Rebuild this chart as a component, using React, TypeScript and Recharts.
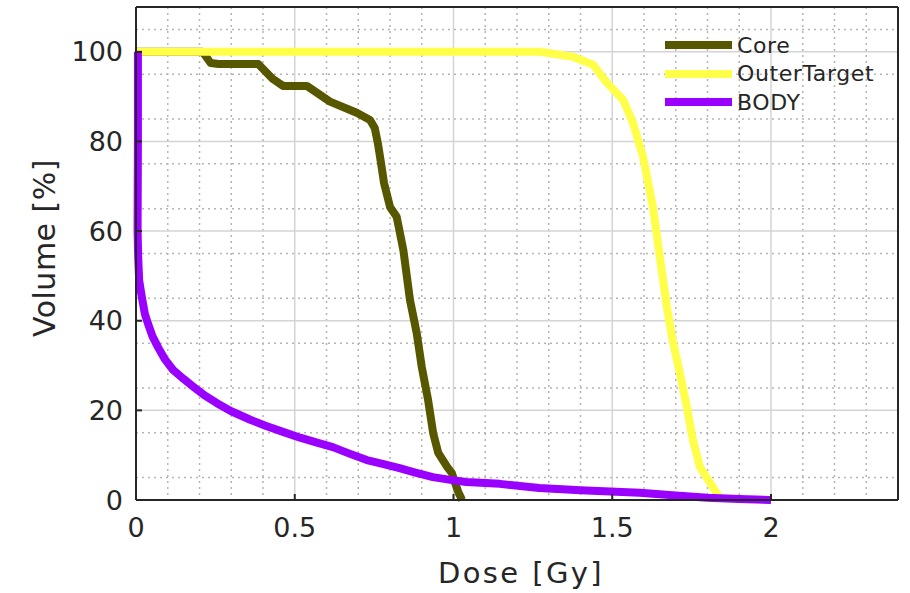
import { CartesianGrid, Line, LineChart, XAxis, YAxis } from "recharts";

// dose-volume histogram, dose in Gy, volume in %
const coreDose = [0, 0.21, 0.235, 0.26, 0.385, 0.43, 0.463, 0.538, 0.611, 0.695, 0.737, 0.752, 0.762, 0.771, 0.781, 0.8, 0.821, 0.842, 0.863, 0.884, 0.9, 0.92, 0.936, 0.952, 0.98, 0.995, 1.005, 1.015, 1.027];
const coreVolume = [100, 100, 97.5, 97.3, 97.3, 94, 92.4, 92.4, 88.9, 86.4, 84.8, 83, 79.5, 75.5, 70.8, 65.4, 63.2, 55.8, 44.6, 37.3, 29.7, 22.3, 14.9, 10.5, 7.4, 6.0, 3.8, 1.8, 0];

const outerDose = [0, 1.272, 1.376, 1.44, 1.483, 1.534, 1.565, 1.597, 1.628, 1.65, 1.672, 1.69, 1.713, 1.735, 1.754, 1.776, 1.808, 1.83, 1.845];
const outerVolume = [100, 100, 98.9, 97.1, 93.1, 89.3, 84.2, 76.6, 65.4, 54.2, 43.1, 35.7, 28.3, 20.8, 13.4, 7.4, 3.8, 1.4, 0];

const bodyDose = [0.006, 0.006, 0.005, 0.007, 0.01, 0.019, 0.028, 0.038, 0.052, 0.07, 0.09, 0.117, 0.15, 0.18, 0.215, 0.255, 0.3, 0.36, 0.41, 0.463, 0.517, 0.57, 0.62, 0.67, 0.727, 0.78, 0.83, 0.88, 0.935, 0.99, 1.04, 1.146, 1.27, 1.4, 1.587, 1.7, 1.8, 1.9, 2.0];
const bodyVolume = [100, 80, 60, 54, 49, 45, 41.5, 39.3, 36.5, 34, 31.5, 29, 27, 25.3, 23.4, 21.6, 19.8, 17.9, 16.5, 15.2, 13.9, 12.8, 11.8, 10.4, 8.9, 8, 7.1, 6.1, 5.1, 4.5, 4.0, 3.6, 2.7, 2.2, 1.6, 1.0, 0.5, 0.2, 0];

const seriesNames = ["Core", "OuterTarget", "BODY"];
const seriesColors = ["#575700", "#ffff4a", "#9a00ff"];

const xTicks = [0, 0.5, 1, 1.5, 2];
const yTicks = [0, 20, 40, 60, 80, 100];
const xMinor = [0.1, 0.2, 0.3, 0.4, 0.6, 0.7, 0.8, 0.9, 1.1, 1.2, 1.3, 1.4, 1.6, 1.7, 1.8, 1.9, 2.1, 2.2, 2.3];
const yMinor = [5, 10, 15, 25, 30, 35, 45, 50, 55, 65, 70, 75, 85, 90, 95, 105];

const toPoints = (d: number[], v: number[]) => d.map((x, i) => ({ d: x, v: v[i] }));
const seriesData = [
  toPoints(coreDose, coreVolume),
  toPoints(outerDose, outerVolume),
  toPoints(bodyDose, bodyVolume),
];

const font = "DejaVu Sans";
const ink = "#262626";

export default function App() {
  return (
    <div style={{ position: "absolute", left: 0, top: 0, width: 910, height: 593, background: "#fff", fontFamily: font }}>
      <LineChart width={910} height={593} margin={{ top: 0, right: 0, bottom: 0, left: 0 }}>
        <CartesianGrid
          xAxisId="x"
          yAxisId="y"
          verticalValues={xMinor}
          horizontalValues={yMinor}
          stroke="#b5b5b5"
          strokeDasharray="2 4"
          strokeWidth={1.5}
        />
        <CartesianGrid xAxisId="x" yAxisId="y" stroke="#d4d4d4" strokeWidth={1.5} />
        <XAxis
          xAxisId="x"
          type="number"
          dataKey="d"
          domain={[0, 2.4]}
          ticks={xTicks}
          height={93}
          tickSize={-6}
          tickMargin={24}
          stroke={ink}
          strokeWidth={2}
          tick={{ fill: ink, fontSize: 27, fontFamily: font }}
          label={{
            content: () => (
              <text x={521} y={583} textAnchor="middle" fill={ink} fontSize={29} letterSpacing={2.4} fontFamily={font}>
                Dose [Gy]
              </text>
            ),
          }}
        />
        <XAxis
          xAxisId="top"
          orientation="top"
          type="number"
          dataKey="d"
          domain={[0, 2.4]}
          ticks={xTicks}
          height={7}
          tickSize={-6}
          tick={false}
          stroke={ink}
          strokeWidth={2}
        />
        <YAxis
          yAxisId="y"
          type="number"
          domain={[0, 110]}
          ticks={yTicks}
          width={136}
          tickSize={-6}
          tickMargin={19}
          stroke={ink}
          strokeWidth={2}
          tick={{ fill: ink, fontSize: 27, fontFamily: font }}
          label={{
            content: () => (
              <text
                x={55}
                y={248}
                transform="rotate(-90 55 248)"
                textAnchor="middle"
                fill={ink}
                fontSize={30}
                letterSpacing={0.5}
                fontFamily={font}
              >
                Volume [%]
              </text>
            ),
          }}
        />
        <YAxis
          yAxisId="right"
          orientation="right"
          type="number"
          domain={[0, 110]}
          ticks={yTicks}
          width={12}
          tickSize={-6}
          tick={false}
          stroke={ink}
          strokeWidth={2}
        />
        {seriesData.map((data, i) => (
          <Line
            key={seriesNames[i]}
            xAxisId="x"
            yAxisId="y"
            data={data}
            dataKey="v"
            name={seriesNames[i]}
            type="linear"
            stroke={seriesColors[i]}
            strokeWidth={8}
            strokeLinejoin="round"
            dot={false}
            activeDot={false}
            isAnimationActive={false}
          />
        ))}
      </LineChart>
      <div style={{ position: "absolute", left: 665, top: 31 }}>
        {seriesNames.map((name, i) => (
          <div key={name} style={{ display: "flex", alignItems: "center", height: 28.5 }}>
            <div style={{ width: 67, height: 8, background: seriesColors[i], marginRight: 5 }} />
            <span style={{ fontSize: 22, letterSpacing: 0.6, color: ink, fontFamily: font }}>{name}</span>
          </div>
        ))}
      </div>
    </div>
  );
}
